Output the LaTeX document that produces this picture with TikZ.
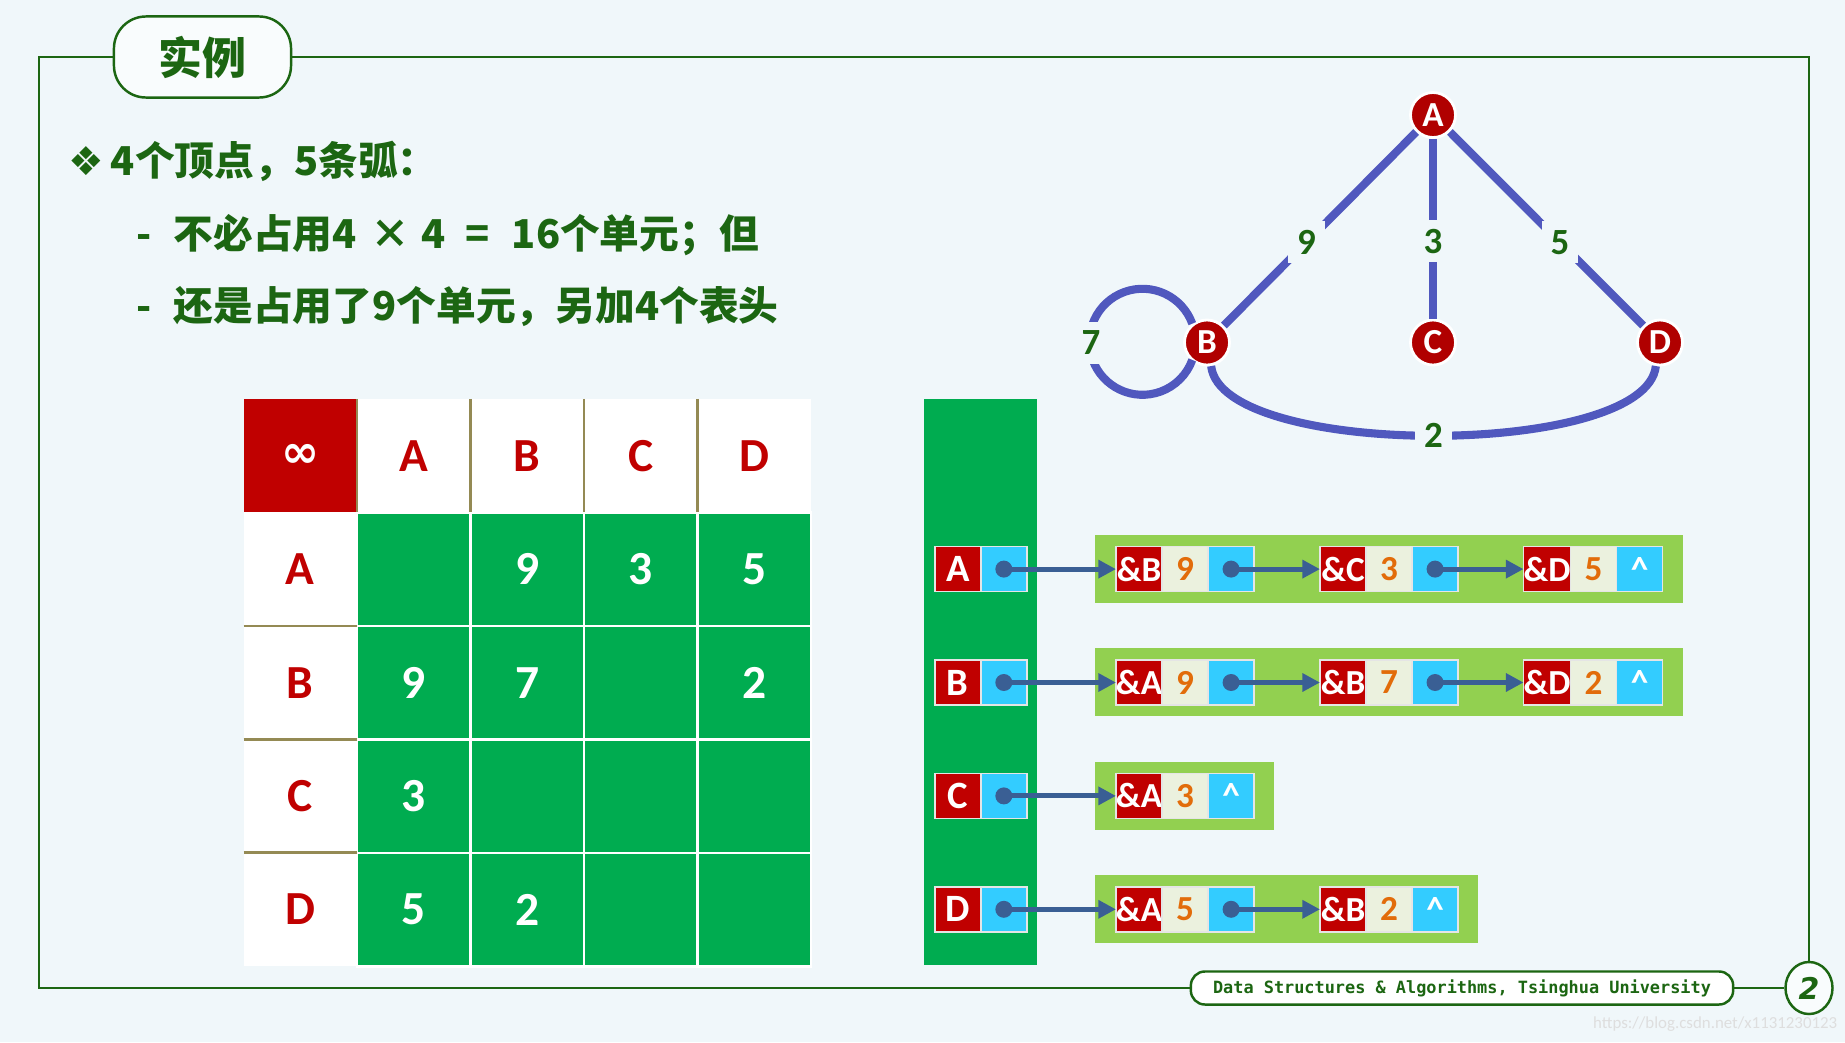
\documentclass[tikz,border=0pt]{standalone}
\usepackage{fontspec}
\setmainfont{Carlito}
\newfontfamily\cjk{Noto Sans CJK SC}
\newfontfamily\sym{DejaVu Sans}
\newfontfamily\mono{DejaVu Sans Mono}
\usetikzlibrary{positioning,arrows.meta,shapes.geometric}

\definecolor{bg}{RGB}{240,247,250}
\definecolor{dkgreen}{RGB}{28,102,18}
\definecolor{mgreen}{RGB}{0,172,80}
\definecolor{lgreen}{RGB}{146,208,80}
\definecolor{cyanbox}{RGB}{51,204,255}
\definecolor{redbox}{RGB}{192,0,0}
\definecolor{beige}{RGB}{235,241,222}
\definecolor{wtorange}{RGB}{226,108,10}
\definecolor{ptrblue}{RGB}{58,95,148}
\definecolor{edgeblue}{RGB}{80,88,190}
\definecolor{vtxred}{RGB}{176,0,0}
\definecolor{olive}{RGB}{148,138,84}

\tikzset{
  framel/.style={draw=dkgreen, line width=0.7pt},
  tab/.style={draw=dkgreen, line width=0.7pt, fill=white!60!bg, rounded corners=0.32cm,
    minimum width=1.77cm, minimum height=0.81cm, inner sep=0pt, text=dkgreen,
    font=\cjk\bfseries\fontsize{12.5}{14}\selectfont},
  bodytext/.style={anchor=west, inner sep=0pt, text=dkgreen,
    font=\cjk\bfseries\fontsize{11.3}{13}\selectfont},
  hdcell/.style={minimum width=1.134cm, minimum height=1.134cm, inner sep=0pt, outer sep=0pt,
    fill=white, text=redbox, font=\bfseries\fontsize{13.5}{15}\selectfont},
  valcell/.style={hdcell, fill=mgreen, draw=white, line width=0.7pt, text=white},
  sepl/.style={draw=olive, line width=0.8pt},
  vbox/.style={minimum width=0.46cm, minimum height=0.45cm, inner sep=0pt, outer sep=0pt,
    draw=white!80!gray, line width=0.4pt, fill=redbox, text=white,
    font=\bfseries\fontsize{10}{12}\selectfont},
  wbox/.style={vbox, fill=beige, text=wtorange},
  nbox/.style={vbox, fill=cyanbox},
  ptr/.style={draw=ptrblue, line width=1.4pt, -{Triangle[length=5pt,width=5pt]}},
  vtx/.style={circle, fill=vtxred, draw=white, line width=0.8pt, minimum size=0.45cm,
    inner sep=0pt, text=white, font=\bfseries\fontsize{10}{10}\selectfont},
  gedge/.style={draw=edgeblue, line width=2.3pt},
  wlab/.style={fill=bg, inner sep=2.5pt, text=dkgreen, font=\bfseries\fontsize{10.5}{12}\selectfont},
}

\begin{document}
\begin{tikzpicture}[x=0.01cm, y=-0.01cm]
  % background
  \fill[bg] (0,0) rectangle (1845,1042);
  \useasboundingbox (0,0) rectangle (1845,1042);

  % title, footer and frame
  \node[tab] (title) at (202.5,57) {实例};
  \node[draw=dkgreen, line width=0.7pt, fill=white, rounded corners=4pt, minimum width=5.42cm,
    minimum height=0.33cm, inner sep=0pt, text=dkgreen, font=\mono\bfseries\fontsize{4.8}{6}\selectfont]
    (foot) at (1462,988) {Data Structures \& Algorithms, Tsinghua University};
  \node[ellipse, draw=dkgreen, line width=0.7pt, fill=white!60!bg, minimum width=0.47cm,
    minimum height=0.52cm, inner sep=0pt, text=dkgreen,
    font=\sym\bfseries\itshape\fontsize{8.5}{10}\selectfont] (pg) at (1809,988) {2};
  \draw[framel] (title.west) -- (39,57) -- (39,988) -- (foot.west);
  \draw[framel] (title.east) -- (1809,57) -- (pg.north);
  \draw[framel] (foot.east) -- (pg.west);
  \node[anchor=east, inner sep=0pt, text=black!13, font=\fontsize{4.8}{6}\selectfont]
    (wm) at (1838,1024) {https://blog.csdn.net/x1131230123};

  % text lines
  \node[bodytext] (l1) at (68,161) {{\sym ❖}\,4个顶点，5条弧：};
  \node[bodytext] (l2) at (136,235) {-\hspace{0.55em}不必占用4\hspace{0.33em}×\hspace{0.3em}4\hspace{0.5em}=\hspace{0.55em}16个单元；但};
  \node[bodytext] (l3) at (136,307) {-\hspace{0.55em}还是占用了9个单元，另加4个表头};

  % adjacency matrix
  \node[hdcell, fill=redbox, text=white] (inf) at (300.3,455.7) {\sym\bfseries\fontsize{13}{14}\selectfont ∞};
  \node[hdcell, right=0pt of inf] (cA) {A};
  \node[hdcell, right=0pt of cA] (cB) {B};
  \node[hdcell, right=0pt of cB] (cC) {C};
  \node[hdcell, right=0pt of cC] (cD) {D};
  \node[hdcell, below=0pt of inf] (rA) {A};
  \node[hdcell, below=0pt of rA] (rB) {B};
  \node[hdcell, below=0pt of rB] (rC) {C};
  \node[hdcell, below=0pt of rC] (rD) {D};
  \foreach \r/\a/\b/\c/\d in {A/{}/9/3/5, B/9/7/{}/2, C/3/{}/{}/{}, D/5/2/{}/{}} {
    \node[valcell, right=0pt of r\r] (m\r1) {\a};
    \node[valcell, right=0pt of m\r1] (m\r2) {\b};
    \node[valcell, right=0pt of m\r2] (m\r3) {\c};
    \node[valcell, right=0pt of m\r3] (m\r4) {\d};
  }
  \foreach \n in {cA,cB,cC,cD} \draw[sepl] (\n.north west) -- (\n.south west);
  \foreach \n in {rB,rC,rD} \draw[sepl] (\n.north west) -- (\n.north east);

  % head nodes
  \fill[mgreen] (924,399) rectangle (1037,965);
  \node[vbox, font=\bfseries\fontsize{11}{12}\selectfont] (hA) at (957.8,569.1) {A};
  \node[nbox, right=0pt of hA] (hAp) {};
  \node[vbox, font=\bfseries\fontsize{11}{12}\selectfont] (hB) at (957.8,682.5) {B};
  \node[nbox, right=0pt of hB] (hBp) {};
  \node[vbox, font=\bfseries\fontsize{11}{12}\selectfont] (hC) at (957.8,795.9) {C};
  \node[nbox, right=0pt of hC] (hCp) {};
  \node[vbox, font=\bfseries\fontsize{11}{12}\selectfont] (hD) at (957.8,909.3) {D};
  \node[nbox, right=0pt of hD] (hDp) {};

  % edge lists
  \fill[lgreen] (1094.5,535) rectangle (1683,603);
  \fill[lgreen] (1094.5,648.4) rectangle (1683,716.4);
  \fill[lgreen] (1094.5,761.8) rectangle (1274,829.8);
  \fill[lgreen] (1094.5,875.2) rectangle (1478,943.2);

  \node[vbox] (a1) at (1139,569.1) {\&B}; \node[wbox, right=0pt of a1] (a1w) {9}; \node[nbox, right=0pt of a1w] (a1n) {};
  \node[vbox] (a2) at (1343,569.1) {\&C}; \node[wbox, right=0pt of a2] (a2w) {3}; \node[nbox, right=0pt of a2w] (a2n) {};
  \node[vbox] (a3) at (1547,569.1) {\&D}; \node[wbox, right=0pt of a3] (a3w) {5}; \node[nbox, right=0pt of a3w] (a3n) {\textasciicircum};

  \node[vbox] (b1) at (1139,682.5) {\&A}; \node[wbox, right=0pt of b1] (b1w) {9}; \node[nbox, right=0pt of b1w] (b1n) {};
  \node[vbox] (b2) at (1343,682.5) {\&B}; \node[wbox, right=0pt of b2] (b2w) {7}; \node[nbox, right=0pt of b2w] (b2n) {};
  \node[vbox] (b3) at (1547,682.5) {\&D}; \node[wbox, right=0pt of b3] (b3w) {2}; \node[nbox, right=0pt of b3w] (b3n) {\textasciicircum};

  \node[vbox] (c1) at (1139,795.9) {\&A}; \node[wbox, right=0pt of c1] (c1w) {3}; \node[nbox, right=0pt of c1w] (c1n) {\textasciicircum};

  \node[vbox] (d1) at (1139,909.3) {\&A}; \node[wbox, right=0pt of d1] (d1w) {5}; \node[nbox, right=0pt of d1w] (d1n) {};
  \node[vbox] (d2) at (1343,909.3) {\&B}; \node[wbox, right=0pt of d2] (d2w) {2}; \node[nbox, right=0pt of d2w] (d2n) {\textasciicircum};

  % pointers
  \foreach \p/\q in {hAp/a1, a1n/a2, a2n/a3, hBp/b1, b1n/b2, b2n/b3, hCp/c1, hDp/d1, d1n/d2} {
    \fill[ptrblue] (\p.center) circle (8.5);
    \draw[ptr] (\p.center) -- (\q.west);
  }

  % graph
  \node[vtx] (A) at (1433,115) {A};
  \node[vtx] (B) at (1207,342.5) {B};
  \node[vtx] (C) at (1433,342.5) {C};
  \node[vtx] (D) at (1660,342.5) {D};

  \draw[gedge] (A) -- (B) node[wlab, pos=0.57] {9};
  \draw[gedge] (A) -- (C) node[wlab, pos=0.57] {3};
  \draw[gedge] (A) -- (D) node[wlab, pos=0.57] {5};
  \draw[gedge] (B.128) arc[start angle=-20, end angle=-340, radius=53];
  \node[wlab] (w7) at (1091,343) {7};
  \draw[gedge] (B.-80) .. controls +(10,93) and +(-10,93) .. (D.-100) node[wlab, pos=0.5] {2};
\end{tikzpicture}
\end{document}
